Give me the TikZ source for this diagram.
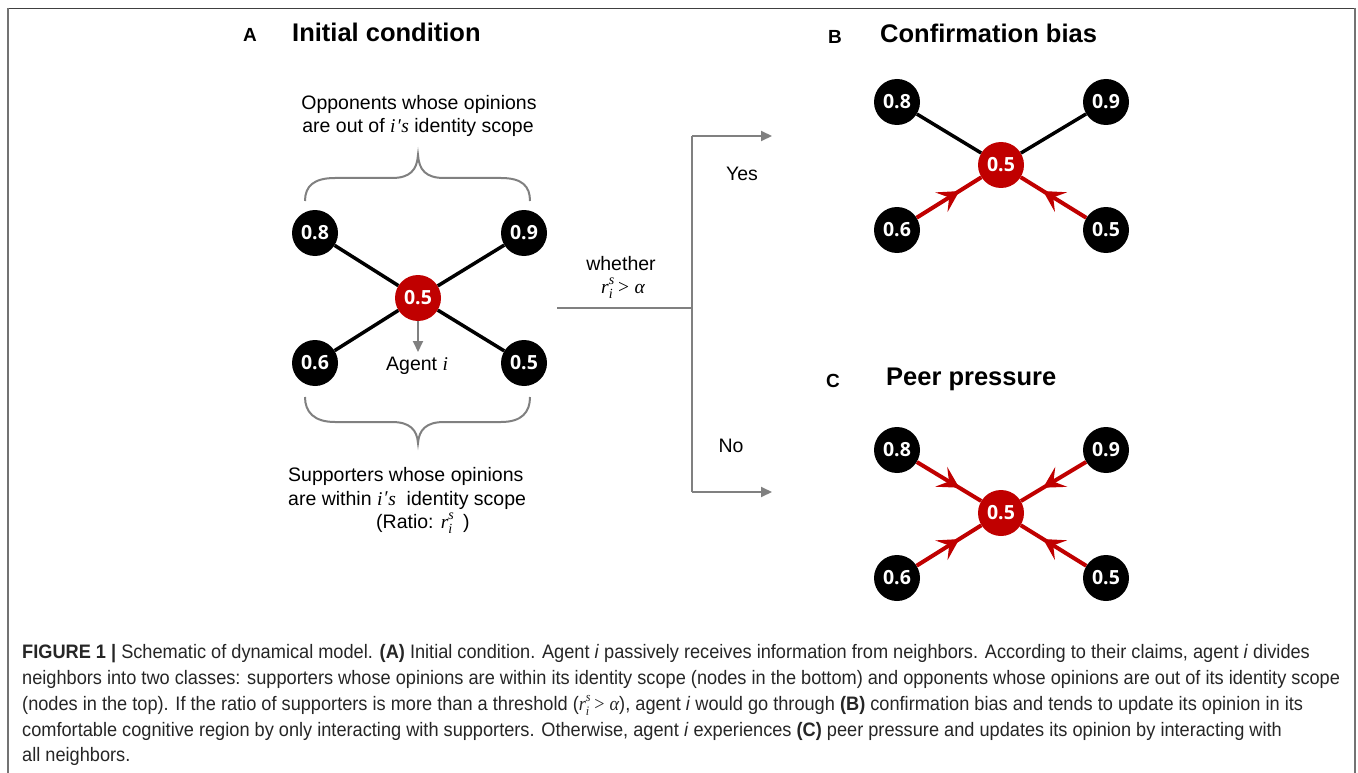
\documentclass[tikz,border=0pt]{standalone}
\usepackage{fontspec}
\usepackage{graphicx}
\setmainfont{Liberation Sans}
\newfontfamily\nodefont{Open Sans}
\newfontfamily\capfont{Liberation Sans}
\newfontfamily\mathf{Liberation Serif}
\usetikzlibrary{arrows.meta,decorations.markings}
\definecolor{myred}{HTML}{C00000}
\definecolor{mygray}{HTML}{808080}
\definecolor{capgray}{HTML}{262626}
\newcommand\mv[1]{{\mathf\itshape #1}}
% r_i^s with given script size
\newcommand\rsi[1]{\mv{r}\rlap{\raisebox{0.42em}{\fontsize{#1}{#1}\selectfont\mv{s}}}\raisebox{-0.28em}{\fontsize{#1}{#1}\selectfont\mv{i}}}
\newcommand\ips{\mv{i\kern0.05em\raisebox{0.05em}{\char"2032}\kern0.03em s}}
\newlength\capwd
\newcommand\capset{\capfont\fontsize{19.5}{22}\selectfont}
\newcommand\lineA{\textbf{FIGURE 1 |} Schematic of dynamical model. \textbf{(A)} Initial condition. Agent \textit{i} passively receives information from neighbors. According to their claims, agent \textit{i} divides}
\newcommand\lineB{neighbors into two classes: supporters whose opinions are within its identity scope (nodes in the bottom) and opponents whose opinions are out of its identity scope}
\newcommand\lineC{(nodes in the top). If the ratio of supporters is more than a threshold (\rsi{13} {\mathf >} \mv{α}), agent \textit{i} would go through \textbf{(B)} confirmation bias and tends to update its opinion in its}
\newcommand\lineD{comfortable cognitive region by only interacting with supporters. Otherwise, agent \textit{i} experiences \textbf{(C)} peer pressure and updates its opinion by interacting with}
\newcommand\lineE{all neighbors.}
\tikzset{
  nb/.style={circle, fill=black, minimum size=46pt, inner sep=0pt, text=white,
    font=\nodefont\bfseries\fontsize{19.5}{20}\selectfont},
  nr/.style={nb, fill=myred},
  edgeb/.style={line width=3.5pt, black},
  edger/.style={line width=4pt, myred, postaction={decorate},
    decoration={markings, mark=at position 0.66 with {\arrow{Stealth[length=21pt,width=23pt,inset=9pt]}}}},
  body/.style={font=\fontsize{19.5}{23.5}\selectfont, inner sep=0pt, anchor=base},
  bodyw/.style={body, anchor=base west},
  ttl/.style={font=\bfseries\fontsize{25.5}{30}\selectfont, inner sep=0pt, anchor=base west},
  letr/.style={font=\bfseries\fontsize{19}{22}\selectfont, inner sep=0pt, anchor=base west},
  brace/.style={line width=2pt, mygray},
  gline/.style={line width=2pt, mygray},
  garrow/.style={line width=2pt, mygray, -{Triangle[length=11pt,width=10pt]}},
  capline/.style={anchor=base west, inner sep=0pt, text=capgray},
}
\begin{document}
\settowidth\capwd{\capset\lineB}%
\pgfmathsetmacro\capr{1318/\capwd}%
\begin{tikzpicture}[x=1pt, y=-1pt]
\useasboundingbox (0,0) rectangle (1358,773);
\fill[white] (0,0) rectangle (1358,773);
% frame
\draw[line width=1.5pt, black!75] (7,8.5) -- (1356,8.5);
\draw[line width=2pt, black!55] (8,8) -- (8,773);
\draw[line width=2pt, black!55] (1355,8) -- (1355,773);

% ---------- Panel A ----------
\node[letr] (lA) at (243,42) {A};
\node[ttl] (tA) at (292,42) {Initial condition};
\node[body] (opp1) at (419,110) {Opponents whose opinions};
\node[body] (opp2) at (418,133) {are out of \ips\ identity scope};
\draw[brace] (305,201) .. controls (305,186) and (314,178) .. (335,178) -- (392,178)
  .. controls (410,178) and (417,170) .. (418,155)
  .. controls (419,170) and (426,178) .. (444,178) -- (501,178)
  .. controls (522,178) and (530,186) .. (530,201);
\node[nb] (a8) at (315,233) {0.8};
\node[nb] (a9) at (524,233) {0.9};
\node[nr] (ac) at (418,298) {0.5};
\node[nb] (a6) at (315,363) {0.6};
\node[nb] (a5) at (524,363) {0.5};
\draw[edgeb] (a8) -- (ac);
\draw[edgeb] (a9) -- (ac);
\draw[edgeb] (a6) -- (ac);
\draw[edgeb] (a5) -- (ac);
\coordinate (agtip) at (418,352);
\draw[garrow] (ac.south) -- (agtip);
\node[bodyw] (agent) at (386,370) {Agent \mv{i}};
\draw[brace] (305,397) .. controls (305,412) and (314,422) .. (335,422) -- (392,422)
  .. controls (410,422) and (417,430) .. (418,443)
  .. controls (419,430) and (426,422) .. (444,422) -- (501,422)
  .. controls (522,422) and (530,412) .. (530,397);
\node[bodyw] (sup1) at (288,481) {Supporters whose opinions};
\node[bodyw] (sup2) at (288,505) {are within \ips\ \ identity scope};
\node[bodyw] (sup3) at (376,528) {(Ratio: \rsi{14}\ \ )};

% ---------- decision ----------
\coordinate (h1) at (557,308);
\coordinate (h2) at (692,308);
\coordinate (v1) at (692,136);
\coordinate (v2) at (692,492);
\coordinate (yT) at (772,136);
\coordinate (nT) at (772,492);
\draw[gline] (h1) -- (h2);
\draw[gline] (v1) -- (v2);
\draw[garrow] (v1) -- (yT);
\draw[garrow] (v2) -- (nT);
\node[body] (wh1) at (621,270) {whether};
\node[body] (wh2) at (623,293) {\rsi{14} {\mathf >} \mv{α}};
\node[body] (yes) at (742,181) {Yes};
\node[body] (no) at (731,452) {No};

% ---------- Panel B ----------
\node[letr] (lB) at (828,44) {B};
\node[ttl] (tB) at (880,43) {Confirmation bias};
\node[nb] (b8) at (897,102) {0.8};
\node[nb] (b9) at (1106,102) {0.9};
\node[nr] (bc) at (1001,165) {0.5};
\node[nb] (b6) at (897,230) {0.6};
\node[nb] (b5) at (1106,230) {0.5};
\draw[edgeb] (b8) -- (bc);
\draw[edgeb] (b9) -- (bc);
\draw[edger] (b6) -- (bc);
\draw[edger] (b5) -- (bc);

% ---------- Panel C ----------
\node[letr] (lC) at (826,387) {C};
\node[ttl] (tC) at (886,385) {Peer pressure};
\node[nb] (c8) at (897,450) {0.8};
\node[nb] (c9) at (1106,450) {0.9};
\node[nr] (cc) at (1001,513) {0.5};
\node[nb] (c6) at (897,578) {0.6};
\node[nb] (c5) at (1106,578) {0.5};
\draw[edger] (c8) -- (cc);
\draw[edger] (c9) -- (cc);
\draw[edger] (c6) -- (cc);
\draw[edger] (c5) -- (cc);

% ---------- caption ----------
\node[capline] (cap1) at (22,658) {\scalebox{\capr}[1]{\capset\lineA}};
\node[capline] (cap2) at (22,684) {\scalebox{\capr}[1]{\capset\lineB}};
\node[capline] (cap3) at (22,710) {\scalebox{\capr}[1]{\capset\lineC}};
\node[capline] (cap4) at (22,736) {\scalebox{\capr}[1]{\capset\lineD}};
\node[capline] (cap5) at (22,761) {\scalebox{\capr}[1]{\capset\lineE}};
\end{tikzpicture}
\end{document}
